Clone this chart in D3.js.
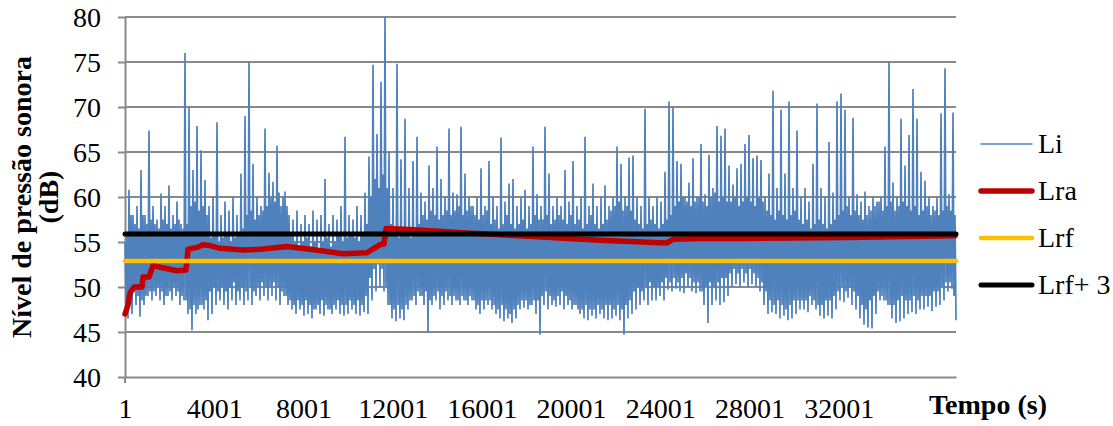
<!DOCTYPE html>
<html>
<head>
<meta charset="utf-8">
<script src="https://cdn.jsdelivr.net/npm/d3@7"></script>
<style>
body { margin: 0; background: #fff; }
</style>
</head>
<body>
<svg id="chart" width="1113" height="426"></svg>
<script>
// tempo total (s) e ticks
var nTotal = 37260;
var xTicks = [1, 4001, 8001, 12001, 16001, 20001, 24001, 28001, 32001];
var yTicks = [40, 45, 50, 55, 60, 65, 70, 75, 80];

// Li: por bloco de ~180 s -> pico, base da faixa densa, topo da faixa densa, vale
var liHigh = [55,60.8,58,59,63,58,67.4,59,57.5,60.4,59,61.3,58,59.5,57,76,70,63,67.9,65.2,
  61.9,59,60,68.3,58,59.5,58.5,60,58,62.6,69,75,63.7,60,59,67.6,62.7,61.7,65.7,59,
  60.6,58,57.5,58.5,57,58,57,58.5,57.5,58,62,57,58,57.5,59,66.7,58,57.5,59,58,
  60.5,64.5,74.7,67,72.8,80,65,61,74.8,64.2,68.7,61,64,66.7,60.5,59.5,63.5,61,65.6,62,
  60,67.6,60.5,60.3,67.8,62.6,60,59,60,63.2,59,64,60,59,66.6,59.5,61.5,62,59,60,
  60.8,59,65.6,60.3,59,67.8,62.6,59,60,59,63,59.5,64,59,60,66.7,59,61.5,59,60,
  61.3,59,60,65.6,63.7,60,64.4,64.6,60,59,69.8,60,59,60,59.5,62.8,70.6,70,64,63.7,
  60,61.6,64.3,60,65.9,60.3,64.7,61,67.9,66.8,67.6,63.5,61.4,63.2,63.7,65.9,66.9,64.3,64.6,64.1,
  60,62.6,71.8,61,69.7,62.6,70.6,61,67.4,60,61,59.5,63.7,70.4,61,60,66.1,60.5,70.6,71.5,
  69.7,60,68.8,60.3,59.5,60.6,59,60,59.5,60,65.6,75,61.6,60,68.7,63.5,66.9,72,68.7,62.8,
  61.8,60,59,60,69.3,74.3,60.3,69.4];
var liBandLow = [48.5,49,49.5,49,48.5,49,49.5,
  49.5,50,49.5,49,49.5,50,49.5,49,48.5,
  47.5,48,47.5,48,48.5,
  49.5,50,49.5,50,49.5,50,50.5,49.5,50,
  49.5,50,49.5,50,50.5,50,
  50,50.5,50,49.5,49,
  48.5,48,48.5,48,48.5,48,47.5,48,48.5,48,47.5,48,48.5,48,48,48.5,
  48,48.5,48,49,
  51,52,52.5,52,50,
  48,47.5,48,47.5,48,48.5,49,49.5,
  49,49.5,48.5,49,49.5,49,49.5,49,
  49,48.5,49,48.5,49,48.5,48,48.5,48.5,
  48.5,48,47.5,48,47.5,47,47.5,48,48.5,48.5,48,48.5,48.5,
  49,49.5,49,48.5,49,49.5,49,48.5,
  48,47.5,47.5,48,47.5,47.5,48,47.5,48,
  48,47.5,48,47.5,48,48.5,
  49.5,50,49.5,50,50.5,50,50,50.5,51,50.5,
  51,50.5,51,51.5,51,50.5,50.5,49.5,50,50.5,50,50.5,51,51,
  51.5,52,51.5,52,51.5,52,51.5,51,50.5,49.5,
  48.5,48,48.5,48,47.5,48,48.5,48.5,
  48.5,48.5,49,48.5,48,48,48.5,48.5,49,49.5,
  50,49.5,50,49.5,49,48,47.5,48.5,
  49,49.5,49,48.5,48,48,48.5,49,48.5,
  48.5,49,48.5,49,49,49,49.5,49.5,50,50.5,50.5,49];
var liBandHigh = [56,58,57,56.5,58,57,57.5,
  57,56.5,57.5,57,56.5,57,57.5,56.5,57,
  59,59.5,58.5,59,58,
  55.5,56,55,55.5,56,55,55.5,56,56.5,
  58,58.5,57.5,58,58.5,59,
  60,59.5,60.5,60,59,
  56,55,54.5,55,55.5,54.5,55,54,55,55.5,54.5,55,56,55,55.5,56,
  55.5,55,56,57,
  60,62,61,62.5,61,
  57,56,55.5,56.5,56,55.5,56,57,
  58,57.5,58.5,58,57.5,58,58.5,58,
  58.5,59,58,58.5,59,58,57.5,58,58.5,
  57,57.5,56.5,57,58,57,56.5,57,57.5,56.5,57,58,57.5,
  57.5,58,57,57.5,58,57.5,57,58,
  57,57.5,56.5,57,58,57,56.5,57,57.5,
  58.5,59,59.5,58.5,59,58.5,
  57.5,57,56.5,57,57.5,57,56.5,57,57.5,58,
  59,59.5,60,59.5,59,59.5,60,59.5,59,60,60.5,59.5,60,59.5,
  59.5,60,59,59.5,60,59.5,59,60,59.5,58.5,
  58,57.5,58.5,58,57.5,58,58.5,57.5,
  57,57.5,56.5,57,57.5,57,56.5,57,57.5,58,
  58.5,59,58,58.5,58,57.5,58,58.5,
  59,59.5,58.5,59,59.5,58.5,59,59.5,59,
  58.5,59,58,58.5,59,58,58.5,58,58.5,59,58.5,58];
var liLow = [46.5,47,48,46.7,48,49,48.5,49,48.5,48,49,48.5,49,48,48.5,47,45.2,47,48,47.5,
  46.3,47,48,48.5,48,47.5,48.5,48,48.5,48,48.5,48,49,48.5,49,48.5,49,48.5,48,49,
  48,47.5,47,47.5,46.8,47,46.5,47.5,47,46.8,47.5,47,47.5,47,46.8,47,47.5,47,46.8,47.2,
  47,48.5,49.5,50,49.5,48,46.5,46.2,46.5,46.3,47.5,48.5,48,49,48,44.9,48,48.5,47.5,48,
  48.5,48,48.5,48,48.5,48,48.5,47.5,47,47.5,48,47.5,47,46.5,46.2,46.5,46,46.5,47.5,47.7,
  47.5,48,47,44.7,48,47.5,48,47.8,48,47.5,48,47.5,48,47,46.5,46.3,46.8,46.5,47,46.5,
  46.3,46.5,46.8,46.3,44.7,46.5,47,47.5,48,48.5,48,48.5,48.5,49,48.5,49.7,49.5,49.8,49.5,49.3,
  50,49.5,49.3,49.5,48,46,48,48.5,48,48.3,49,50,50.3,50,50.5,50,50.3,50,49.5,48,
  47,47.2,47,46.5,46.8,46.3,46.5,47,47.5,47.5,47.2,48,47.5,46.8,46.5,46.8,46.5,47.5,48.5,48.3,
  48.8,48,47.5,46.5,45.8,45.5,45.4,47,48.5,48.5,48,46.5,46,46.2,46.5,47,47.2,47,47.5,47.5,
  47.8,47.3,47.8,48,48.5,49.5,49.8,46.3];

// Lra: media acumulada
var lraTime = [1,135,225,404,763,808,1077,1256,1570,2333,2736,2826,3230,3498,3812,4261,5292,6055,7265,8296,
  9776,10852,11166,11435,11614,11704,12780,15336,18295,21299,24303,24572,25783,27890,32374,37217];
var lraVal = [47.0,48.0,49.3,50.0,50.0,51.1,51.1,52.4,52.2,51.8,51.9,54.2,54.4,54.7,54.6,54.3,54.1,54.2,54.5,54.2,
  53.7,53.8,54.3,54.7,54.8,56.5,56.4,56.0,55.6,55.2,54.9,55.3,55.4,55.4,55.5,55.7];

// Lrf e Lrf+3
var lrf = 52.9;
var lrf3 = 55.9;

var seriesNames = ["Li", "Lra", "Lrf", "Lrf+ 3"];
var seriesColors = ["#4F81BD", "#C00000", "#FFC000", "#000000"];
var seriesWidths = [1.5, 5.5, 4.5, 5];

var li = [];
liHigh.forEach(function(h, i) { li.push(h, liBandLow[i], liBandHigh[i], liLow[i]); });
var liStep = (nTotal - 1) / (li.length - 1);

var svg = d3.select("#chart");
var font = "'Liberation Serif', 'Times New Roman', serif";

var x = d3.scaleLinear().domain([1, nTotal]).range([125, 956]);
var y = d3.scaleLinear().domain([40, 80]).range([377, 17]);

// grade
svg.append("g").selectAll("line")
  .data(yTicks.filter(function(d) { return d > 40; }))
  .enter().append("line")
  .attr("x1", 125).attr("x2", 956)
  .attr("y1", function(d) { return y(d); })
  .attr("y2", function(d) { return y(d); })
  .attr("stroke", "#898989")
  .attr("stroke-width", 2);

// eixo y
var yAxis = svg.append("g")
  .attr("transform", "translate(125,0)")
  .call(d3.axisLeft(y).tickValues(yTicks).tickSize(7).tickSizeOuter(0).tickPadding(17));
yAxis.select(".domain").attr("stroke", "#898989").attr("stroke-width", 2);
yAxis.selectAll(".tick line").attr("stroke", "#898989").attr("stroke-width", 2);
yAxis.selectAll("text")
  .attr("font-family", font).attr("font-size", 28).attr("fill", "#000")
  .attr("dy", "0.34em");

// eixo x
var xAxis = svg.append("g")
  .attr("transform", "translate(0,377)")
  .call(d3.axisBottom(x).tickValues(xTicks).tickSize(0).tickSizeOuter(0).tickPadding(0)
    .tickFormat(function(d) { return String(d); }));
xAxis.select(".domain").attr("stroke", "#898989").attr("stroke-width", 2);
xAxis.selectAll("text")
  .attr("font-family", font).attr("font-size", 28).attr("fill", "#000")
  .attr("y", 41).attr("dy", 0);
svg.append("line")
  .attr("x1", 125).attr("x2", 125).attr("y1", 377).attr("y2", 383)
  .attr("stroke", "#898989").attr("stroke-width", 2);

// Li
svg.append("path")
  .datum(li)
  .attr("fill", "none")
  .attr("stroke", seriesColors[0])
  .attr("stroke-width", 1.7)
  .attr("d", d3.line()
    .x(function(d, i) { return x(1 + i * liStep); })
    .y(function(d) { return y(d); }));

// Lra
svg.append("path")
  .datum(lraVal)
  .attr("fill", "none")
  .attr("stroke", seriesColors[1])
  .attr("stroke-width", seriesWidths[1])
  .attr("stroke-linejoin", "round")
  .attr("stroke-linecap", "round")
  .attr("d", d3.line()
    .x(function(d, i) { return x(lraTime[i]); })
    .y(function(d) { return y(d); }));

// Lrf, Lrf+3
[lrf, lrf3].forEach(function(v, k) {
  svg.append("line")
    .attr("x1", x(1)).attr("x2", x(nTotal))
    .attr("y1", y(v)).attr("y2", y(v))
    .attr("stroke", seriesColors[k + 2])
    .attr("stroke-width", seriesWidths[k + 2])
    .attr("stroke-linecap", "round");
});

// titulos
var yt = svg.append("text")
  .attr("transform", "translate(31,197) rotate(-90)")
  .attr("text-anchor", "middle")
  .attr("font-family", font).attr("font-size", 28).attr("font-weight", "bold");
yt.append("tspan").attr("x", 0).attr("y", 0).text("Nível de pressão sonora");
yt.append("tspan").attr("x", 0).attr("y", 27).text("(dB)");

svg.append("text")
  .attr("x", 988).attr("y", 414)
  .attr("text-anchor", "middle")
  .attr("font-family", font).attr("font-size", 28).attr("font-weight", "bold")
  .text("Tempo (s)");

// legenda
var leg = svg.append("g").selectAll("g")
  .data(seriesNames).enter().append("g")
  .attr("transform", function(d, i) { return "translate(0," + (144 + i * 47) + ")"; });
leg.append("line")
  .attr("x1", 981).attr("x2", 1032).attr("y1", 0).attr("y2", 0)
  .attr("stroke", function(d, i) { return seriesColors[i]; })
  .attr("stroke-width", function(d, i) { return seriesWidths[i]; })
  .attr("stroke-linecap", "round");
leg.append("text")
  .attr("x", 1038).attr("y", 9)
  .attr("font-family", font).attr("font-size", 28)
  .text(function(d) { return d; });
</script>
</body>
</html>
